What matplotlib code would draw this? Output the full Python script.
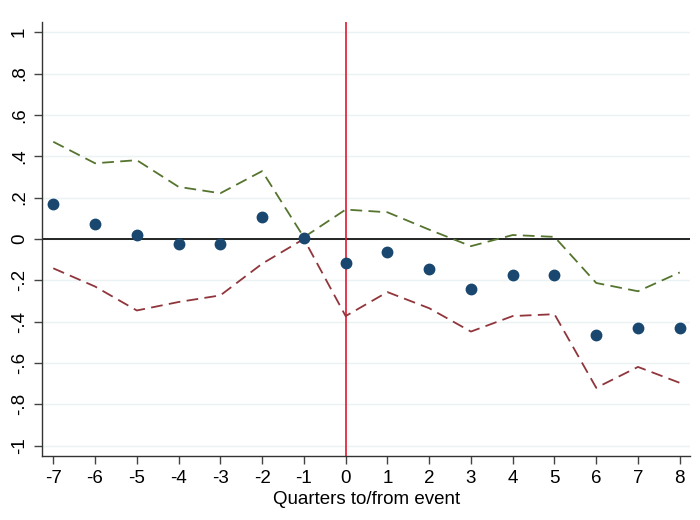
import matplotlib
matplotlib.use("Agg")
import matplotlib.pyplot as plt

plt.rcParams['font.family'] = ['Liberation Sans', 'DejaVu Sans']

quarters = [-7, -6, -5, -4, -3, -2, -1, 0, 1, 2, 3, 4, 5, 6, 7, 8]
estimate = [0.170, 0.072, 0.020, -0.025, -0.025, 0.105, 0.005, -0.117,
            -0.065, -0.145, -0.243, -0.175, -0.175, -0.467, -0.433, -0.430]
upper_ci = [0.470, 0.366, 0.381, 0.252, 0.221, 0.328, 0.008, 0.142,
            0.129, 0.045, -0.035, 0.019, 0.010, -0.213, -0.253, -0.162]
lower_ci = [-0.142, -0.230, -0.346, -0.305, -0.273, -0.120, 0.000, -0.373,
            -0.257, -0.335, -0.448, -0.373, -0.364, -0.720, -0.619, -0.696]
ytick_vals = [-1, -0.8, -0.6, -0.4, -0.2, 0, 0.2, 0.4, 0.6, 0.8, 1]
ytick_labels = ['-1', '-.8', '-.6', '-.4', '-.2', '0', '.2', '.4', '.6', '.8', '1']
xlabel = "Quarters to/from event"

navy = '#1a476f'
olive = '#55752f'
maroon = '#90353b'
grid_c = '#eaf2f3'

fig = plt.figure(figsize=(7, 5.2), dpi=100)
ax = fig.add_axes([0.060, 0.123, 0.926, 0.835])

for v in ytick_vals:
    ax.axhline(v, color=grid_c, lw=1.0, zorder=0)

ax.axhline(0, color='black', lw=1.2, zorder=2)
ax.axvline(0, color='#e3172d', lw=1.2, zorder=2)

ax.plot(quarters, upper_ci, color=olive, lw=1.3, dashes=(6.5, 3.5), zorder=3)
ax.plot(quarters, lower_ci, color=maroon, lw=1.3, dashes=(6.5, 3.5), zorder=3)
ax.plot(quarters, estimate, 'o', color=navy, markersize=7.5, zorder=4)

ax.set_xlim(-7.27, 8.25)
ax.set_ylim(-1.05, 1.05)
ax.set_xticks(quarters)
ax.set_xticklabels([str(q) for q in quarters])
ax.set_yticks(ytick_vals)
ax.set_yticklabels(ytick_labels, rotation=90, va='center')

for s in ('top', 'right'):
    ax.spines[s].set_visible(False)
for s in ('left', 'bottom'):
    ax.spines[s].set_color('#333333')
    ax.spines[s].set_linewidth(1.0)

ax.tick_params(axis='both', labelsize=13.5, length=6, width=1.0, color='#444444', pad=4)
ax.set_xlabel(xlabel, fontsize=13.5, labelpad=3)

fig.savefig('out.png', dpi=100, facecolor='white')
